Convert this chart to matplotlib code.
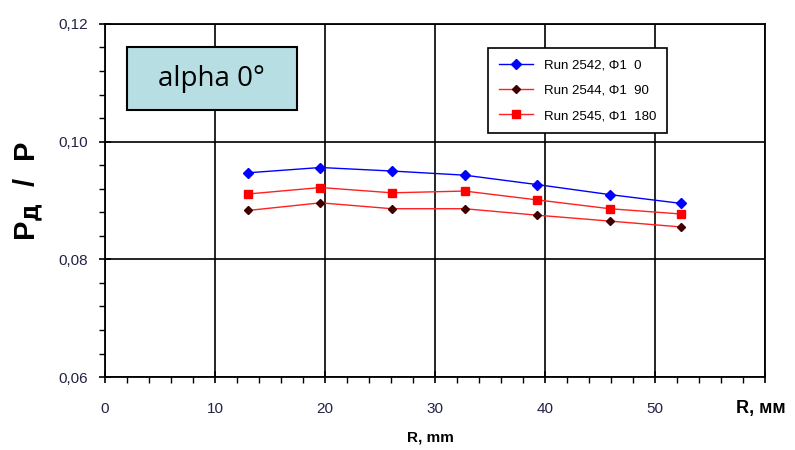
import matplotlib

matplotlib.use("Agg")

import matplotlib.pyplot as plt
from matplotlib.patches import Rectangle
from matplotlib.ticker import MultipleLocator, FuncFormatter

# data
r_mm = [13.0, 19.6, 26.1, 32.7, 39.3, 45.9, 52.4]
run_2542 = [0.0947, 0.0956, 0.0950, 0.0943, 0.0927, 0.0910, 0.0895]
run_2544 = [0.0883, 0.0896, 0.0886, 0.0886, 0.0875, 0.0865, 0.0855]
run_2545 = [0.0911, 0.0922, 0.0913, 0.0916, 0.0901, 0.0886, 0.0877]
labels = ["Run 2542, \u03a61  0", "Run 2544, \u03a61  90", "Run 2545, \u03a61  180"]

plt.rcParams["font.family"] = ["Liberation Sans", "DejaVu Sans"]

fig = plt.figure(figsize=(7.95, 4.5), dpi=100)
ax = fig.add_axes([0.132, 0.162, 0.830, 0.785])

ax.plot(r_mm, run_2542, color="#0000ff", lw=1.0, marker="D", ms=5,
        mfc="#0000ff", mec="#0000ff", label=labels[0], zorder=3)
ax.plot(r_mm, run_2544, color="#ff2020", lw=1.0, marker="D", ms=4.5,
        mfc="#400000", mec="#400000", label=labels[1], zorder=3)
ax.plot(r_mm, run_2545, color="#ff2020", lw=1.0, marker="s", ms=6,
        mfc="#ff0000", mec="#ff0000", label=labels[2], zorder=3)

ax.set_xlim(0, 60)
ax.set_ylim(0.06, 0.12)
ax.xaxis.set_major_locator(MultipleLocator(10))
ax.xaxis.set_minor_locator(MultipleLocator(2))
ax.yaxis.set_major_locator(MultipleLocator(0.02))
ax.yaxis.set_minor_locator(MultipleLocator(0.004))
ax.yaxis.set_major_formatter(FuncFormatter(lambda v, p: ("%.2f" % v).replace(".", ",")))
ax.xaxis.set_major_formatter(FuncFormatter(lambda v, p: "" if v >= 60 else "%d" % v))

ax.grid(True, which="major", color="black", lw=1.2)
for s in ax.spines.values():
    s.set_linewidth(1.3)
ax.tick_params(which="major", direction="inout", length=8, width=1.2,
               labelsize=11, colors="black")
ax.tick_params(which="minor", direction="out", length=4, width=1.0)
ax.tick_params(axis="x", pad=14)
ax.tick_params(axis="y", pad=8)
for t in ax.get_xticklabels() + ax.get_yticklabels():
    t.set_color("#222244")

leg = ax.legend(loc="upper left", bbox_to_anchor=(0.571, 0.949), fontsize=9.5,
                frameon=True, fancybox=False, edgecolor="black",
                borderpad=0.8, labelspacing=1.0, handlelength=2.6)
leg.get_frame().set_linewidth(1.2)
leg.get_frame().set_alpha(1)

# "alpha 0°" box
ax.add_patch(Rectangle((0.0333, 0.756), 0.258, 0.179, transform=ax.transAxes,
                       fc="#b7dee3", ec="black", lw=1.5, zorder=5))
ax.text(0.162, 0.845, "alpha 0\u00b0", transform=ax.transAxes, fontsize=20,
        family=["Open Sans", "DejaVu Sans"], ha="center", va="center", zorder=6)

fig.text(0.035, 0.575, "P$_{\\mathbf{Д}}$  /  P", rotation=90, fontsize=21,
         fontweight="bold", ha="center", va="center")
fig.text(0.957, 0.093, "R, мм", fontsize=13, fontweight="bold", ha="center", va="center")
fig.text(0.542, 0.028, "R, mm", fontsize=11, fontweight="bold", ha="center", va="center")

plt.savefig("out.png", dpi=100)
